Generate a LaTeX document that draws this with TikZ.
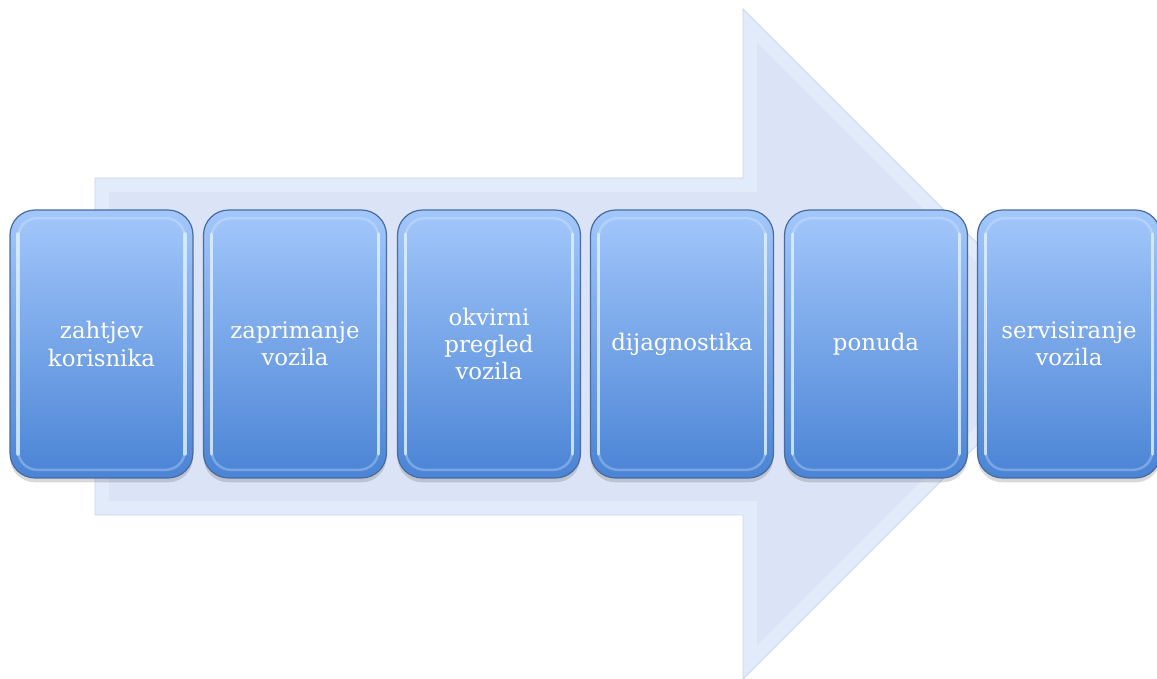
\documentclass[tikz,border=0pt]{standalone}
\usepackage{fontspec}
\setmainfont{DejaVu Serif}
\usetikzlibrary{shadows}
\definecolor{arrowfill}{HTML}{E2EBF9}
\definecolor{arrowinner}{HTML}{DAE4F6}
\definecolor{arrowline}{HTML}{C9D6EB}
\definecolor{boxtop}{HTML}{A3C7FB}
\definecolor{boxbot}{HTML}{4A84D5}
\definecolor{boxline}{HTML}{4A6B9E}
\definecolor{glint}{HTML}{E2F2FF}
\tikzset{
  stepbox/.style={rectangle, rounded corners=0.5cm, minimum width=3.66cm, minimum height=5.36cm,
    top color=boxtop, bottom color=boxbot, draw=boxline, line width=0.7pt,
    text=white, align=center, font=\fontsize{13}{15.6}\selectfont, inner sep=0pt,
    drop shadow={shadow xshift=0pt, shadow yshift=-2.5pt, opacity=0.25, fill=black!60}},
  glinty/.style={draw=glint, line width=1.4pt, opacity=0.3, rounded corners=0.38cm},
  glintside/.style={draw=glint, line width=2pt, opacity=0.75, line cap=round},
}
\begin{document}
\begin{tikzpicture}[x=0.02cm, y=-0.02cm]
\useasboundingbox (0,0) rectangle (1157,679);
\clip (0,0) rectangle (1157,679);
% big arrow
\path[fill=arrowfill, draw=arrowline, line width=0.5pt]
  (95,178) -- (743,178) -- (743,9) -- (1078,344) -- (743,679) -- (743,515) -- (95,515) -- cycle;
\path[fill=arrowinner]
  (109,192) -- (757,192) -- (757,43) -- (1058,344) -- (757,645) -- (757,501) -- (109,501) -- cycle;
% boxes
\foreach \i/\cx/\txt in {1/101.5/{zahtjev\\korisnika},
                         2/295/{zaprimanje\\vozila},
                         3/489/{okvirni\\pregled\\vozila},
                         4/682/{dijagnostika},
                         5/876/{ponuda},
                         6/1069/{servisiranje\\vozila}}{
  \node[stepbox] (b\i) at (\cx,344) {\txt};
  \draw[glinty] ([shift={(5pt,-5pt)}]b\i.north west) rectangle ([shift={(-5pt,5pt)}]b\i.south east);
  \draw[glintside] ([shift={(5pt,-14pt)}]b\i.north west) -- ([shift={(5pt,14pt)}]b\i.south west);
  \draw[glintside] ([shift={(-5pt,-14pt)}]b\i.north east) -- ([shift={(-5pt,14pt)}]b\i.south east);
}
\end{tikzpicture}
\end{document}
